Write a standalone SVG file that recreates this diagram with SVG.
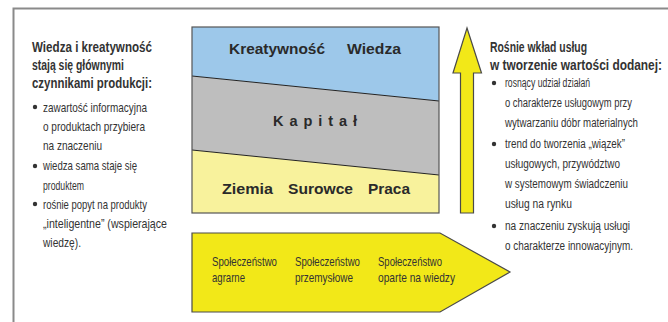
<svg xmlns="http://www.w3.org/2000/svg" width="668" height="322" viewBox="0 0 668 322">
<style>
text{font-family:"Liberation Sans",Arial,sans-serif;fill:#333333}
.h{font-weight:bold;font-size:14.5px}
.b{font-size:13.5px}
.bx{font-weight:bold;font-size:14.5px;fill:#2a2a2a}
.ar{font-size:13px}
.dot{fill:#333333}
.frame{fill:none;stroke:#8a8a8a;stroke-width:2}
</style>
<rect width="668" height="322" fill="#ffffff"/>
<g id="frame">
<path class="frame" d="M13.5 322 V8.5 H668"/>
</g>
<g id="left-text">
<text class="h" x="32" y="52" textLength="120" lengthAdjust="spacingAndGlyphs">Wiedza i kreatywność</text>
<text class="h" x="32" y="70" textLength="92" lengthAdjust="spacingAndGlyphs">stają się głównymi</text>
<text class="h" x="32" y="88" textLength="120" lengthAdjust="spacingAndGlyphs">czynnikami produkcji:</text>
<circle class="dot" cx="35" cy="107" r="2.2"/>
<text class="b" x="43" y="112" textLength="104" lengthAdjust="spacingAndGlyphs">zawartość informacyjna</text>
<text class="b" x="43" y="131" textLength="102" lengthAdjust="spacingAndGlyphs">o produktach przybiera</text>
<text class="b" x="43" y="150" textLength="59" lengthAdjust="spacingAndGlyphs">na znaczeniu</text>
<circle class="dot" cx="35" cy="166" r="2.2"/>
<text class="b" x="43" y="170" textLength="94" lengthAdjust="spacingAndGlyphs">wiedza sama staje się</text>
<text class="b" x="43" y="190" textLength="41" lengthAdjust="spacingAndGlyphs">produktem</text>
<circle class="dot" cx="35" cy="204" r="2.2"/>
<text class="b" x="43" y="209" textLength="104" lengthAdjust="spacingAndGlyphs">rośnie popyt na produkty</text>
<text class="b" x="43" y="228" textLength="124" lengthAdjust="spacingAndGlyphs">„inteligentne” (wspierające</text>
<text class="b" x="43" y="247" textLength="38" lengthAdjust="spacingAndGlyphs">wiedzę).</text>
</g>
<g id="factors-box">
<polygon points="192,27 439,27 439,101 192,76" fill="#9dc8ea"/>
<polygon points="192,76 439,101 439,175 192,150" fill="#bebebe"/>
<polygon points="192,150 439,175 439,213 192,213" fill="#f8f29c"/>
<line x1="192" y1="76" x2="439" y2="101" stroke="#222" stroke-width="1"/>
<line x1="192" y1="150" x2="439" y2="175" stroke="#222" stroke-width="1"/>
<rect x="192" y="27" width="247" height="186" fill="none" stroke="#555" stroke-width="1.2"/>
<text class="bx" x="229" y="54" textLength="96" lengthAdjust="spacingAndGlyphs">Kreatywność</text>
<text class="bx" x="347" y="54" textLength="54" lengthAdjust="spacingAndGlyphs">Wiedza</text>
<text class="bx" x="273" y="126" textLength="84" lengthAdjust="spacing">Kapitał</text>
<text class="bx" x="222" y="194" textLength="51" lengthAdjust="spacingAndGlyphs">Ziemia</text>
<text class="bx" x="288" y="194" textLength="65" lengthAdjust="spacingAndGlyphs">Surowce</text>
<text class="bx" x="368" y="194" textLength="42" lengthAdjust="spacingAndGlyphs">Praca</text>
</g>
<g id="society-arrow">
<polygon points="192,233 440,233 510,272 440,312 192,312" fill="#f2e818" stroke="#4a4a4a" stroke-width="1.2"/>
<text class="ar" x="212" y="266" textLength="65" lengthAdjust="spacingAndGlyphs">Społeczeństwo</text>
<text class="ar" x="212" y="282" textLength="33" lengthAdjust="spacingAndGlyphs">agrarne</text>
<text class="ar" x="295" y="266" textLength="65" lengthAdjust="spacingAndGlyphs">Społeczeństwo</text>
<text class="ar" x="295" y="282" textLength="58" lengthAdjust="spacingAndGlyphs">przemysłowe</text>
<text class="ar" x="378" y="266" textLength="64" lengthAdjust="spacingAndGlyphs">Społeczeństwo</text>
<text class="ar" x="378" y="282" textLength="77" lengthAdjust="spacingAndGlyphs">oparte na wiedzy</text>
</g>
<g id="up-arrow">
<polygon points="467,28 481.5,73 473.5,73 473.5,213 460.5,213 460.5,73 453,73" fill="#f2e818" stroke="#4a4a4a" stroke-width="1.2"/>
</g>
<g id="right-text">
<circle class="dot" cx="494" cy="83" r="2.2"/>
<circle class="dot" cx="494" cy="144" r="2.2"/>
<circle class="dot" cx="494" cy="226" r="2.2"/>
<g transform="translate(490 0) scale(0.8 1)">
<text class="h" x="0" y="52" textLength="121.25" lengthAdjust="spacingAndGlyphs">Rośnie wkład usług</text>
<text class="h" x="0" y="70" textLength="215" lengthAdjust="spacingAndGlyphs">w tworzenie wartości dodanej:</text>
<text class="b" x="18.75" y="87" textLength="106.25" lengthAdjust="spacingAndGlyphs">rosnący udział działań</text>
<text class="b" x="18.75" y="107" textLength="158.75" lengthAdjust="spacingAndGlyphs">o charakterze usługowym przy</text>
<text class="b" x="18.75" y="127" textLength="166.25" lengthAdjust="spacingAndGlyphs">wytwarzaniu dóbr materialnych</text>
<text class="b" x="18.75" y="148" textLength="150" lengthAdjust="spacingAndGlyphs">trend do tworzenia „wiązek”</text>
<text class="b" x="18.75" y="168" textLength="143.75" lengthAdjust="spacingAndGlyphs">usługowych, przywództwo</text>
<text class="b" x="18.75" y="188" textLength="153.75" lengthAdjust="spacingAndGlyphs">w systemowym świadczeniu</text>
<text class="b" x="18.75" y="208" textLength="83.75" lengthAdjust="spacingAndGlyphs">usług na rynku</text>
<text class="b" x="18.75" y="230" textLength="156.25" lengthAdjust="spacingAndGlyphs">na znaczeniu zyskują usługi</text>
<text class="b" x="18.75" y="250" textLength="160" lengthAdjust="spacingAndGlyphs">o charakterze innowacyjnym.</text>
</g>
</g>
</svg>
